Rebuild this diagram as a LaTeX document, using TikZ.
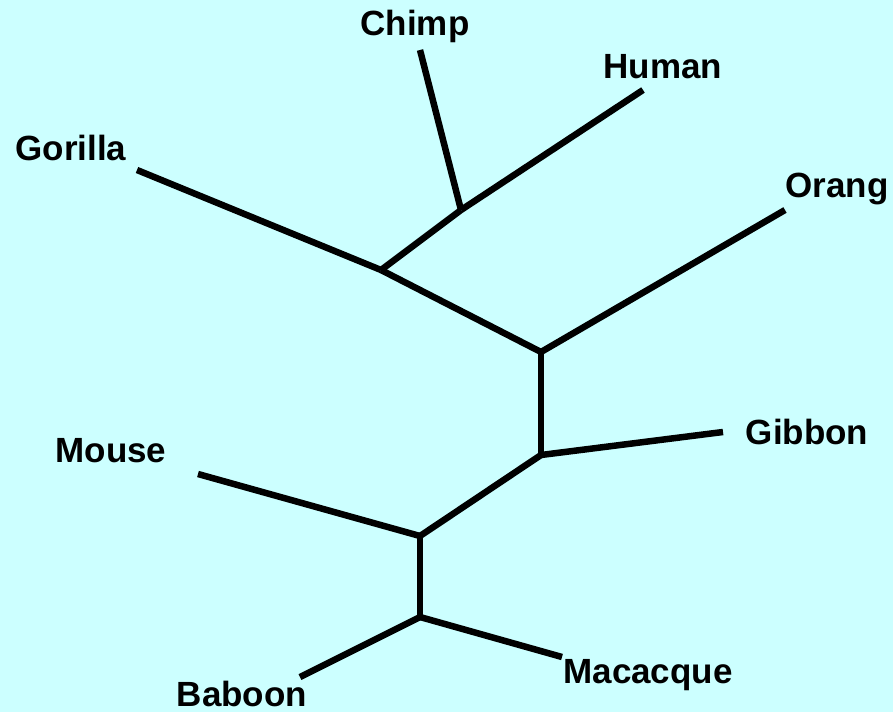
\documentclass[tikz,border=0pt]{standalone}
\usepackage{fontspec}
\setmainfont{Liberation Sans}
\definecolor{bgc}{HTML}{CCFFFF}
\begin{document}
\begin{tikzpicture}[x=1pt,y=-1pt,
  branch/.style={line width=6.5pt,line cap=butt},
  lab/.style={font=\fontsize{35}{40}\selectfont\bfseries,inner sep=0pt}]
\fill[bgc] (0,0) rectangle (893,712);
\useasboundingbox (0,0) rectangle (893,712);
% tips
\coordinate (chimp) at (420,50);
\coordinate (human) at (643,90);
\coordinate (gorilla) at (137,170);
\coordinate (orang) at (785,210);
\coordinate (gibbon) at (723,432);
\coordinate (mouse) at (198,474);
\coordinate (baboon) at (300,677);
\coordinate (macacque) at (562,657);
% internal
\coordinate (n1) at (461,210);
\coordinate (n2) at (381,270);
\coordinate (n3) at (541,352);
\coordinate (n4) at (541,455);
\coordinate (n5) at (420,536);
\coordinate (n6) at (420,617);
\draw[branch] (chimp) -- (n1);
\draw[branch] (human) -- (n1);
\draw[branch] (n1) -- (n2);
\draw[branch] (gorilla) -- (n2);
\draw[branch] (n2) -- (n3);
\draw[branch] (orang) -- (n3);
\draw[branch] (n3) -- (n4);
\draw[branch] (gibbon) -- (n4);
\draw[branch] (n4) -- (n5);
\draw[branch] (mouse) -- (n5);
\draw[branch] (n5) -- (n6);
\draw[branch] (baboon) -- (n6);
\draw[branch] (macacque) -- (n6);
% labels
\node[lab] (lchimp) at (415,26) {Chimp};
\node[lab] (lhuman) at (663,67) {Human};
\node[lab] (lgorilla) at (71,148) {Gorilla};
\node[lab] (lorang) at (837,189) {Orang};
\node[lab] (lgibbon) at (807,432) {Gibbon};
\node[lab] (lmouse) at (111,451) {Mouse};
\node[lab] (lbaboon) at (242,694) {Baboon};
\node[lab] (lmacacque) at (648,675) {Macacque};
\end{tikzpicture}
\end{document}
